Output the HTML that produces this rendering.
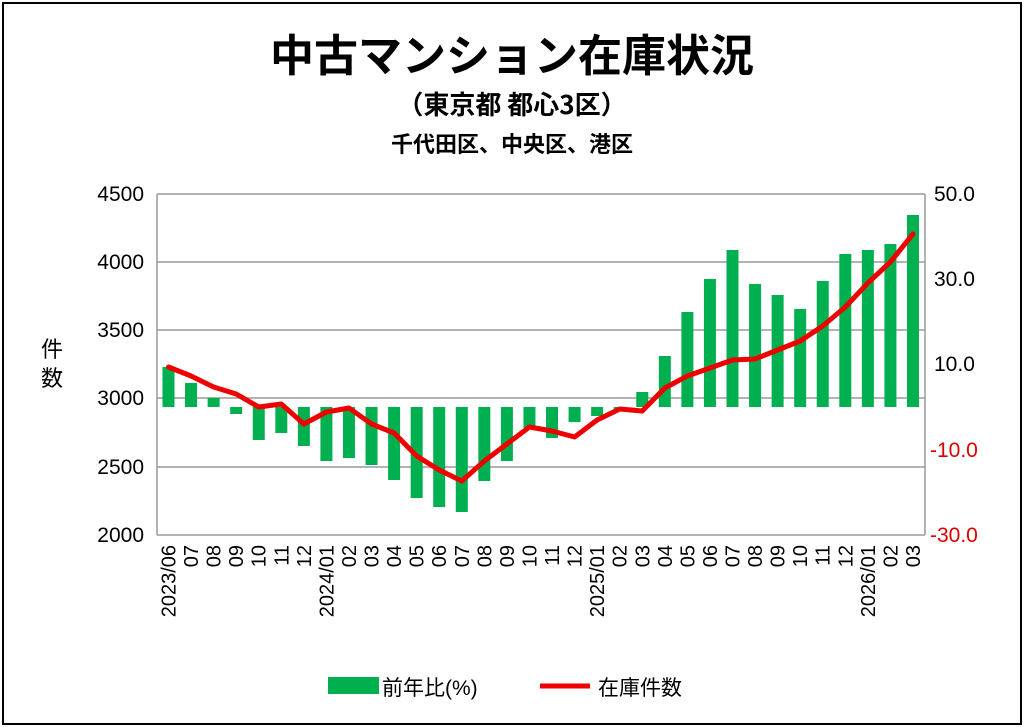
<!DOCTYPE html>
<html><head><meta charset="utf-8"><style>
html,body{margin:0;padding:0;background:#fff;}
svg{display:block;font-family:"Liberation Sans","Noto Sans CJK JP",sans-serif;}
</style></head><body>
<svg width="1024" height="727" viewBox="0 0 1024 727" xmlns="http://www.w3.org/2000/svg">
<rect x="0" y="0" width="1024" height="727" fill="#fff"/>
<rect x="3" y="3" width="1018" height="721" fill="none" stroke="#000" stroke-width="2"/>
<text x="512" y="71" text-anchor="middle" font-size="44" font-weight="bold" font-family="'Noto Sans CJK JP',sans-serif">中古マンション在庫状況</text>
<text x="512" y="114" text-anchor="middle" font-size="26" font-weight="bold" font-family="'Noto Sans CJK JP',sans-serif">（東京都 都心3区）</text>
<text x="512" y="152" text-anchor="middle" font-size="22" font-weight="bold" font-family="'Noto Sans CJK JP',sans-serif">千代田区、中央区、港区</text>
<g stroke="#9a9a9a" stroke-width="1.5">
<line x1="157" y1="194" x2="925" y2="194"/><line x1="157" y1="262" x2="925" y2="262"/>
<line x1="157" y1="330" x2="925" y2="330"/><line x1="157" y1="398" x2="925" y2="398"/>
<line x1="157" y1="467" x2="925" y2="467"/><line x1="157" y1="535" x2="925" y2="535"/>
<line x1="157" y1="194" x2="157" y2="535"/><line x1="925" y1="194" x2="925" y2="535"/>
</g>
<g font-size="21" text-anchor="end">
<text x="144" y="201">4500</text><text x="144" y="269">4000</text><text x="144" y="337">3500</text>
<text x="144" y="405">3000</text><text x="144" y="474">2500</text><text x="144" y="542">2000</text>
</g>
<g font-size="21">
<text x="934" y="201">50.0</text><text x="934" y="286">30.0</text><text x="934" y="371">10.0</text>
<text x="930" y="457" fill="#d00">-10.0</text><text x="930" y="542" fill="#d00">-30.0</text>
</g>
<text x="52" y="357" text-anchor="middle" font-size="22" font-family="'Noto Sans CJK JP',sans-serif">件</text>
<text x="52" y="386" text-anchor="middle" font-size="22" font-family="'Noto Sans CJK JP',sans-serif">数</text>
<g id="bars" fill="#00b050"></g>
<polyline id="line" fill="none" stroke="#e00" stroke-width="5" stroke-linejoin="round" stroke-linecap="round"/>
<g id="xl" font-size="20"></g>
<rect x="328" y="677" width="51" height="17" fill="#00b050"/>
<text x="382" y="695" font-size="21" font-family="'Liberation Sans','Noto Sans CJK JP',sans-serif">前年比(%)</text>
<line x1="540" y1="686" x2="590" y2="686" stroke="#e00" stroke-width="5"/>
<text x="598" y="695" font-size="21" font-family="'Noto Sans CJK JP',sans-serif">在庫件数</text>
<script>
var tops=[367,383,398,414,440,433,446,461,458,465,480,498,507,512,481,461,428,438,422,416,410,392,356,312,279,250,284,295,309,281,254,250,244,215];
var ly=[367,376,387,394,407,404,424,412,408,424,433,456,470,481,461,444,427,431,437,420,409,411,388,376,368,360,359,350,341,326,307,283,262,234];
var labs=["2023/06","07","08","09","10","11","12","2024/01","02","03","04","05","06","07","08","09","10","11","12","2025/01","02","03","04","05","06","07","08","09","10","11","12","2026/01","02","03"];
var ns="http://www.w3.org/2000/svg",b=document.getElementById("bars"),xl=document.getElementById("xl"),pts=[];
for(var i=0;i<34;i++){var cx=168.5+i*22.56,base=407,t=tops[i];
var r=document.createElementNS(ns,"rect");r.setAttribute("x",cx-6);r.setAttribute("width",12);
r.setAttribute("y",Math.min(t,base));r.setAttribute("height",Math.abs(t-base));b.appendChild(r);
pts.push(cx+","+ly[i]);
var tx=document.createElementNS(ns,"text");tx.setAttribute("transform","translate("+(cx+7)+",545) rotate(-90)");
tx.setAttribute("text-anchor","end");tx.textContent=labs[i];xl.appendChild(tx);}
document.getElementById("line").setAttribute("points",pts.join(" "));
</script>
</svg>
</body></html>
